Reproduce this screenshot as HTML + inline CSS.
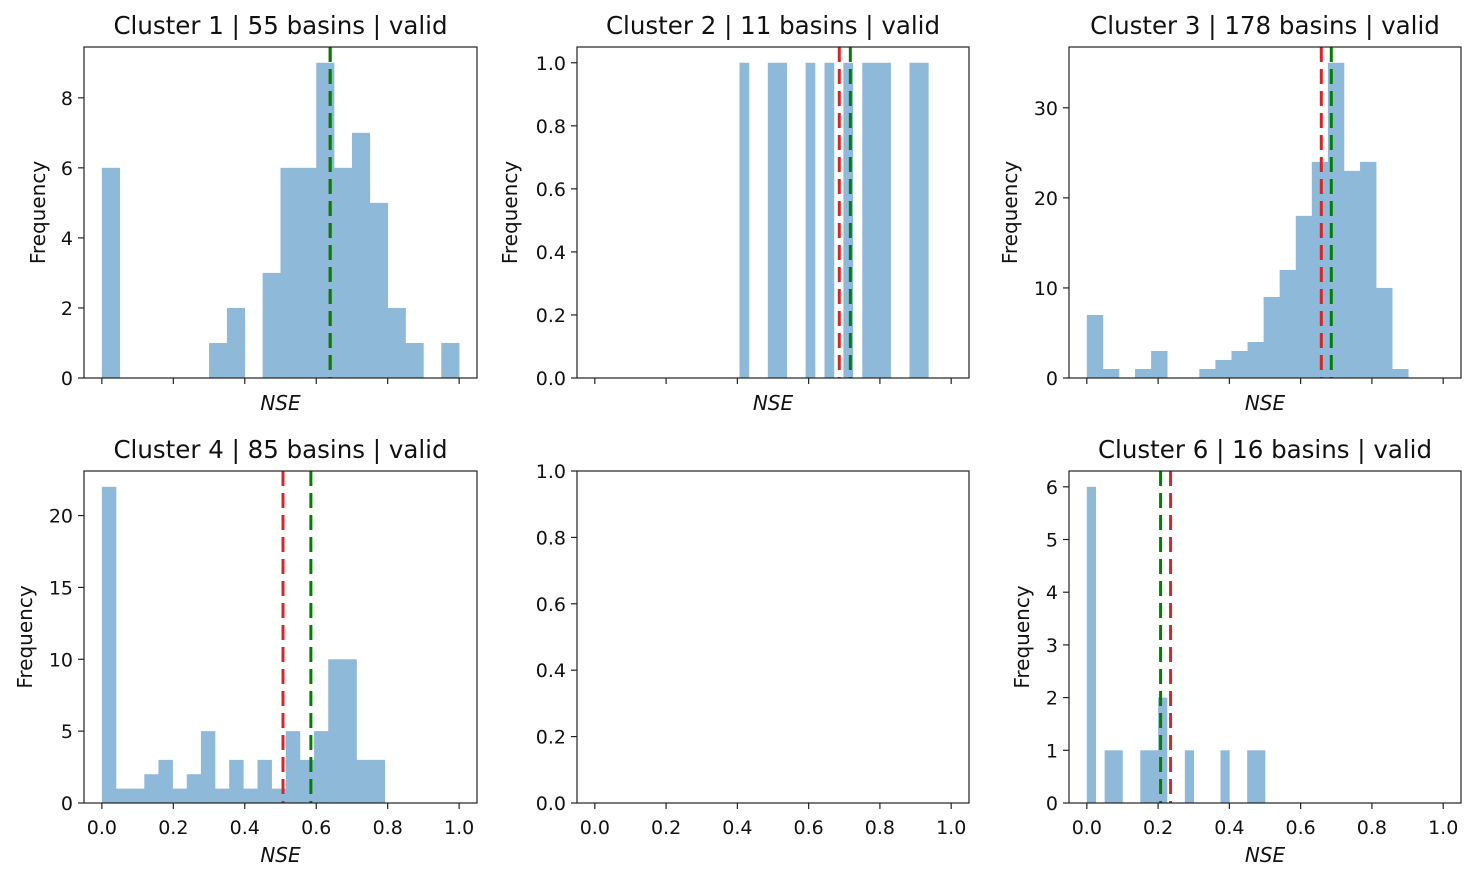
<!DOCTYPE html>
<html><head><meta charset="utf-8"><style>body{margin:0;background:#fff}svg{display:block;font-family:"DejaVu Sans","Liberation Sans",sans-serif}</style></head>
<body>
<svg id="fig" width="1476" height="881" xmlns="http://www.w3.org/2000/svg"></svg>
<script>
// ---- data ----
const titles = ["Cluster 1 | 55 basins | valid","Cluster 2 | 11 basins | valid","Cluster 3 | 178 basins | valid","Cluster 4 | 85 basins | valid","","Cluster 6 | 16 basins | valid"];
const binStart = [0, 0.406, 0, 0, 0, 0];
const binWidth = [0.05, 0.0265, 0.0451, 0.0396, 0, 0.025];
const counts1 = [6,0,0,0,0,0,1,2,0,3,6,6,9,6,7,5,2,1,0,1];
const counts2 = [1,0,0,1,1,0,0,1,0,1,0,1,0,1,1,1,0,0,1,1];
const counts3 = [7,1,0,1,3,0,0,1,2,3,4,9,12,18,24,35,23,24,10,1];
const counts4 = [22,1,1,2,3,1,2,5,1,3,1,3,1,5,3,5,10,10,3,3];
const counts5 = [];
const counts6 = [6,0,1,1,0,0,1,1,2,0,0,1,0,0,0,1,0,0,1,1];
const allCounts = [counts1,counts2,counts3,counts4,counts5,counts6];
const redLine = [0.639, 0.686, 0.658, 0.507, null, 0.235];
const greenLine = [0.639, 0.717, 0.686, 0.585, null, 0.207];
const yMax = [9.45, 1.05, 36.75, 23.1, 1.0, 6.3];
const yTicks = [[0,2,4,6,8],[0,0.2,0.4,0.6,0.8,1.0],[0,10,20,30],[0,5,10,15,20],[0,0.2,0.4,0.6,0.8,1.0],[0,1,2,3,4,5,6]];
const yDecimals = [0,1,0,0,1,0];
const xTicks = [0,0.2,0.4,0.6,0.8,1.0];
const yLabelX = [38,510,1010,25,null,1022];

// ---- drawing ----
const NS="http://www.w3.org/2000/svg";
const svg=document.getElementById('fig');
function mk(tag,attrs,parent){const e=document.createElementNS(NS,tag);for(const k in attrs)e.setAttribute(k,attrs[k]);(parent||svg).appendChild(e);return e;}
const cols=[[84,477],[577,969],[1069,1461]];
const rows=[[47,378],[471,803]];
for(let p=0;p<6;p++){
  const [x0,x1]=cols[p%3],[y0,y1]=rows[Math.floor(p/3)];
  const g=mk('g',{});
  
  
  const sx=v=>x0+(v+0.05)/1.1*(x1-x0);
  const sy=v=>y1-v/yMax[p]*(y1-y0);
  const c=allCounts[p];
  for(let i=0;i<c.length;i++){
    if(!c[i])continue;
    const a=sx(binStart[p]+i*binWidth[p]),b=sx(binStart[p]+(i+1)*binWidth[p]);
    const r=mk('rect',{x:a,y:sy(c[i]),width:b-a+0.3,height:y1-sy(c[i]),fill:'#8fb9d9'},g);
    
    
  }
  [[redLine[p],'#d62728','mean-line'],[greenLine[p],'#008000','median-line']].forEach(([v,col,nm])=>{
    if(v==null)return;
    const l=mk('line',{x1:sx(v),x2:sx(v),y1:y0,y2:y1,stroke:col,'stroke-width':3,'stroke-dasharray':'15,7'},g);
    
    
  });
  const fr=mk('rect',{x:x0,y:y0,width:x1-x0,height:y1-y0,fill:'none',stroke:'#222','stroke-width':1.2},g);
  
  
  xTicks.forEach(t=>{
    mk('line',{x1:sx(t),x2:sx(t),y1:y1,y2:y1+6,stroke:'#222','stroke-width':1.2},g);
    if(y0>400){
      const tx=mk('text',{x:sx(t),y:y1+31,'font-size':19,'text-anchor':'middle',fill:'#111'},g);
      tx.textContent=t.toFixed(1);
      
      
    }
  });
  yTicks[p].forEach(t=>{
    mk('line',{x1:x0-6,x2:x0,y1:sy(t),y2:sy(t),stroke:'#222','stroke-width':1.2},g);
    const tx=mk('text',{x:x0-11,y:sy(t)+7,'font-size':19,'text-anchor':'end',fill:'#111'},g);
    tx.textContent=t.toFixed(yDecimals[p]);
    
    
  });
  if(titles[p]){
    const tt=mk('text',{x:(x0+x1)/2,y:y0-13,'font-size':24.5,'text-anchor':'middle',fill:'#111'},g);
    tt.textContent=titles[p];
    
    
    const xl=mk('text',{x:(x0+x1)/2,y:y0>400?862:410,'font-size':20,'font-style':'italic','text-anchor':'middle',fill:'#111'},g);
    xl.textContent='NSE';
    
    
    const yc=(y0+y1)/2;
    const yl=mk('text',{x:yLabelX[p]+7,y:yc,'font-size':20,'text-anchor':'middle',fill:'#111',transform:`rotate(-90 ${yLabelX[p]+7} ${yc})`},g);
    yl.textContent='Frequency';
    
    
  }
}
</script>
</body></html>
